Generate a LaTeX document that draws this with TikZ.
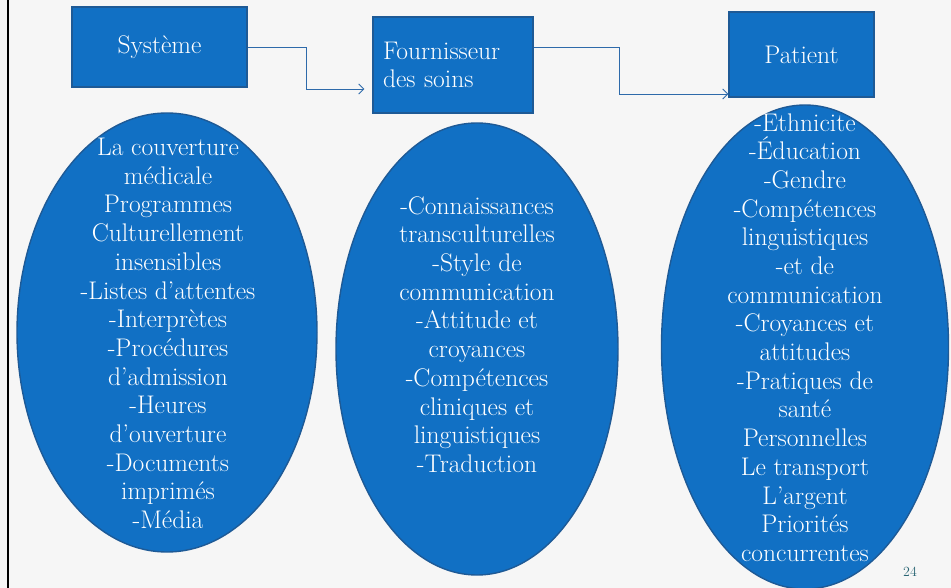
\documentclass[tikz,border=0pt]{standalone}
\usepackage{tikz}
\usetikzlibrary{shapes.geometric,arrows.meta}
\definecolor{boxblue}{RGB}{17,112,196}
\definecolor{boxline}{RGB}{30,90,150}
\definecolor{linkblue}{RGB}{46,106,170}
\definecolor{slidebg}{RGB}{246,246,246}
\definecolor{pagenum}{RGB}{40,100,115}

\begin{document}
\begin{tikzpicture}[
    x=1pt, y=-1pt,
    box/.style={draw=boxline, fill=boxblue, line width=1.4pt, text=white,
      font=\fontsize{25.5}{28}\selectfont, inner sep=0pt},
    oval/.style={ellipse, draw=boxline, fill=boxblue, line width=1.4pt, inner sep=0pt},
    ovaltext/.style={text=white, align=center, font=\fontsize{25.5}{28.7}\selectfont},
    link/.style={draw=linkblue, line width=0.9pt, -{Straight Barb[length=5pt,width=10pt]}}
    ]
    \useasboundingbox (0,0) rectangle (951,588);
    \fill[slidebg] (0,0) rectangle (951,588);
    \draw[line width=2.5pt] (8,0) -- (8,588);
    % ellipses
    \node[oval, minimum width=300, minimum height=439] (sysov) at (167,332.5) {};
    \node[oval, minimum width=282, minimum height=452] (fouov) at (477,349) {};
    \node[oval, minimum width=287, minimum height=484] (patov) at (805,347) {};
    % top boxes
    \node[box, minimum width=175, minimum height=80] (sys) at (159.5,47) {Système};
    \node[box, minimum height=96, text width=140, inner xsep=10pt, align=left] (fou) at (453,65) {Fournisseur\\des soins};
    \node[box, minimum width=145, minimum height=85] (pat) at (801.5,54.5) {Patient};
    % connectors
    \draw[link, shorten >=8pt] (sys.east) -- ++(59,0) |- ([yshift=-24pt]fou.west);
    \draw[link] ([yshift=18pt]fou.east) -- ++(86,0) |- ([yshift=-39.5pt]pat.west);
    % texts
    \node[ovaltext] (systxt) at (168,333.5) {La couverture\\médicale\\Programmes\\Culturellement\\insensibles\\-Listes d’attentes\\-Interprètes\\-Procédures\\d'admission\\-Heures\\d’ouverture\\-Documents\\imprimés\\-Média};
    \node[ovaltext] (foutxt) at (477,334.5) {-Connaissances\\transculturelles\\-Style de\\communication\\-Attitude et\\croyances\\-Compétences\\cliniques et\\linguistiques\\-Traduction};
    \node[ovaltext] (pattxt) at (805,337.5) {-Ethnicite\\-Éducation\\-Gendre\\-Compétences\\linguistiques\\-et de\\communication\\-Croyances et\\attitudes\\-Pratiques de\\santé\\Personnelles\\Le transport\\L’argent\\Priorités\\concurrentes};
    \node[text=pagenum, font=\fontsize{14}{16}\selectfont] (pnum) at (910,572) {24};
\end{tikzpicture}
\end{document}
